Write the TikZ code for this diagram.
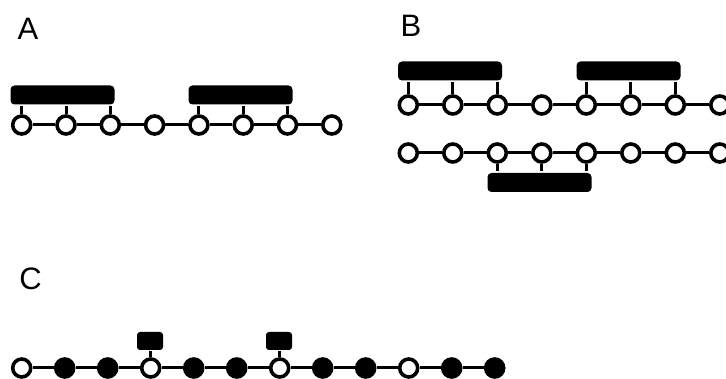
\documentclass[tikz,border=0pt]{standalone}
\usepackage{fontspec}
\setmainfont{Liberation Sans}
\begin{document}
\begin{tikzpicture}[x=1pt,y=-1pt,line width=3pt,
  bead/.style={circle,draw,line width=3.6pt,fill=white,minimum size=18pt,inner sep=0pt},
  fullbead/.style={bead,fill=black},
  clamp/.style={rectangle,fill=black,rounded corners=4pt,minimum width=104pt,minimum height=19pt,inner sep=0pt},
  tag/.style={rectangle,fill=black,rounded corners=3pt,minimum width=26pt,minimum height=18pt,inner sep=0pt},
  panel/.style={anchor=base west,inner sep=0pt,font=\fontsize{31}{36}\selectfont}]

\useasboundingbox (0,0) rectangle (726,379);

% ---- Panel A ----
\node[panel] (labA) at (16,40) {A};
\foreach \i in {1,...,8}
  \node[bead] (a\i) at ({21.7+44.3*(\i-1)},125) {};
\foreach \i [count=\j from 2] in {1,...,7}
  \draw (a\i) -- (a\j);

% Bound blocks
\node[clamp] (clampA1) at (62.5,95) {};
\node[clamp] (clampA2) at (240.5,95) {};
\foreach \i in {1,2,3}
  \draw (clampA1.south -| a\i) -- (a\i.north);
\foreach \i in {5,6,7}
  \draw (clampA2.south -| a\i) -- (a\i.north);

% ---- Panel B ----
\node[panel] (labB) at (399,37) {B};
\foreach \i in {1,...,8} {
  \node[bead] (bt\i) at ({408.3+44.5*(\i-1)},105) {};
  \node[bead] (bb\i) at ({408.3+44.5*(\i-1)},153) {};
}
\foreach \i [count=\j from 2] in {1,...,7} {
  \draw (bt\i) -- (bt\j);
  \draw (bb\i) -- (bb\j);
}

% Bound blocks, upper strand
\node[clamp] (clampB1) at (450,71) {};
\node[clamp] (clampB2) at (628.5,71) {};
\foreach \i in {1,2,3}
  \draw (clampB1.south -| bt\i) -- (bt\i.north);
\foreach \i in {5,6,7}
  \draw (clampB2.south -| bt\i) -- (bt\i.north);

% Bound block, lower strand
\node[clamp] (clampB3) at (539.5,182.5) {};
\foreach \i in {3,4,5}
  \draw (bb\i.south) -- (clampB3.north -| bb\i);

% ---- Panel C ----
\node[panel] (labC) at (18,290) {C};
\foreach \i/\s in {1/bead,2/fullbead,3/fullbead,4/bead,5/fullbead,6/fullbead,
                   7/bead,8/fullbead,9/fullbead,10/bead,11/fullbead,12/fullbead}
  \node[\s] (c\i) at ({21.7+43*(\i-1)},368) {};
\foreach \i [count=\j from 2] in {1,...,11}
  \draw (c\i) -- (c\j);

% Tags on open beads
\node[tag] (tagC1) at (150,341) {};
\node[tag] (tagC2) at (279,341) {};
\draw (tagC1.south -| c4) -- (c4.north);
\draw (tagC2.south -| c7) -- (c7.north);

\end{tikzpicture}
\end{document}
